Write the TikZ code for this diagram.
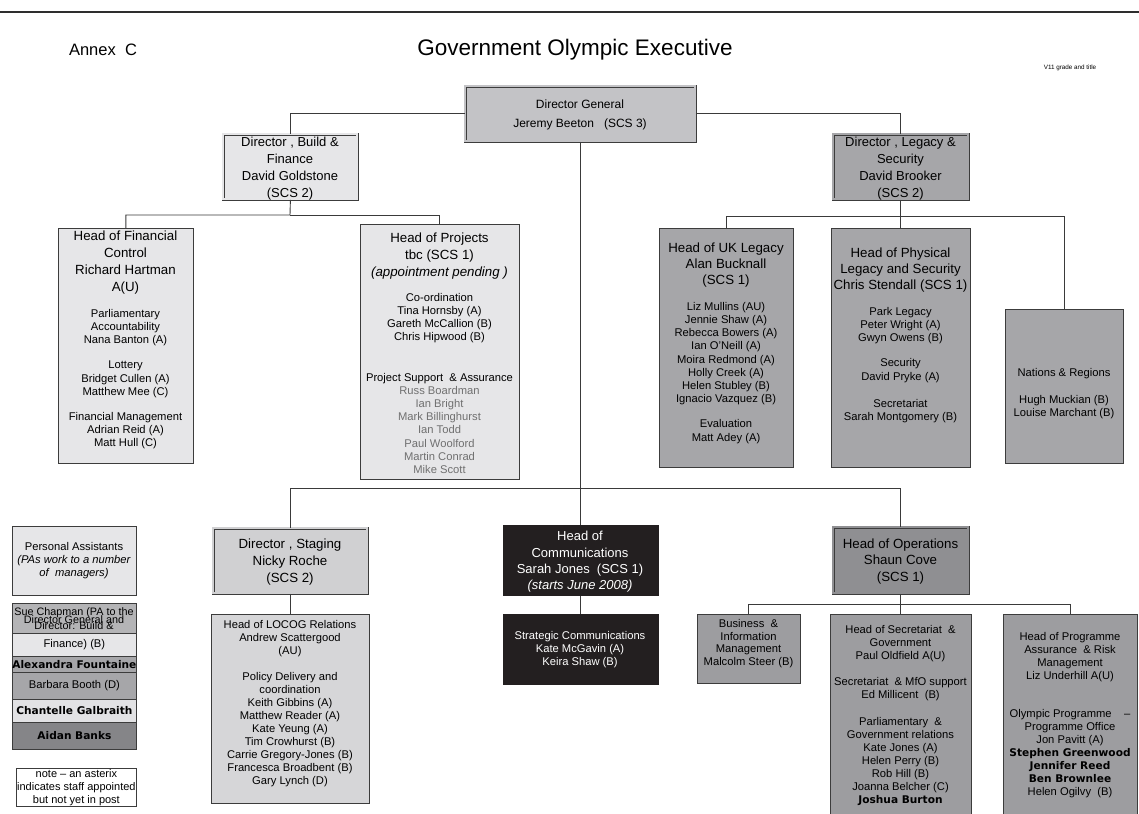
\documentclass[tikz,border=0pt]{standalone}
\usepackage{fontspec}
\setmainfont{Liberation Sans}
\newfontfamily\heavyfont{DejaVu Sans}

\definecolor{rulegray}{HTML}{2E2E2E}
\definecolor{edgegray}{HTML}{3C3C3C}
\definecolor{linegray}{HTML}{3A3A3A}
\definecolor{dgfill}{HTML}{C3C3C6}
\definecolor{pale}{HTML}{E6E6E8}
\definecolor{midgray}{HTML}{A6A6A9}
\definecolor{stagefill}{HTML}{D0D0D2}
\definecolor{locogfill}{HTML}{D6D6D8}
\definecolor{commsfill}{HTML}{231F20}
\definecolor{opsfill}{HTML}{8F8F92}
\definecolor{opsub}{HTML}{9D9DA0}
\definecolor{suefill}{HTML}{B4B4B6}
\definecolor{chanfill}{HTML}{E2E2E4}
\definecolor{aidanfill}{HTML}{858588}
\definecolor{projgray}{HTML}{707070}

\newcommand\hdsize{\fontsize{13.3}{16.5}\selectfont}
\newcommand\bdsize{\fontsize{11.2}{13.2}\selectfont}
\newcommand\heavyname[1]{{\fontsize{10.6}{13.2}\heavyfont\bfseries #1}}

\begin{document}
\begin{tikzpicture}[x=1pt, y=-1pt,
    box/.style={draw=edgegray, line width=0.8pt, anchor=north west, inner sep=0pt},
    dbox/.style={box, fill=#1, double=#1, double distance=2pt},
    conn/.style={draw=linegray, line width=0.9pt},
    hd/.style={align=center, anchor=north, inner sep=0pt, font=\hdsize},
    bd/.style={align=center, anchor=north, inner sep=0pt, font=\bdsize}]

    \useasboundingbox (0,0) rectangle (1139,813);

    \draw[rulegray, line width=1.8pt] (0,12) -- (1139,12);

    \node[font=\fontsize{16.5}{20}\selectfont] (annex) at (103,50) {Annex\ \ C};
    \node[font=\fontsize{22.5}{27}\selectfont] (title) at (575,50) {Government Olympic Executive};
    \node[font=\fontsize{6.3}{8}\selectfont] (version) at (1070,68) {V11 grade and title};

    \node[dbox=dgfill, minimum width=230, minimum height=55] (dg) at (465,86) {};
    \node[align=center, anchor=north, inner sep=0pt, font=\fontsize{12}{19}\selectfont] (dgtxt) at (580,99.5)
        {Director General\\Jeremy Beeton \ \ (SCS 3)};

    \node[dbox=pale, minimum width=134, minimum height=65] (build) at (223,134) {};
    \node[align=center, anchor=north, inner sep=0pt, font=\fontsize{13}{17}\selectfont] (buildtxt) at (290,136.5)
        {Director , Build \&\\Finance\\David Goldstone\\(SCS 2)};

    \node[dbox=midgray, minimum width=135, minimum height=65] (legacy) at (833,134) {};
    \node[align=center, anchor=north, inner sep=0pt, font=\fontsize{13}{17}\selectfont] (legacytxt) at (900.5,136.5)
        {Director , Legacy \&\\Security\\David Brooker\\(SCS 2)};

    \node[box, fill=pale, minimum width=135, minimum height=235] (fin) at (58,228) {};
    \node[hd, font=\fontsize{13.3}{17}\selectfont] (finhd) at (125.5,230.5)
        {Head of Financial\\Control\\Richard Hartman\\A(U)};
    \node[bd] (finbd) at (125.5,309)
        {Parliamentary\\Accountability\\Nana Banton (A)\\[12pt]Lottery\\Bridget Cullen (A)\\Matthew Mee (C)\\[12pt]%
         Financial Management\\Adrian Reid (A)\\Matt Hull (C)};

    \node[box, fill=pale, minimum width=159, minimum height=255] (proj) at (360,224) {};
    \node[hd, font=\fontsize{13.3}{17}\selectfont] (projhd) at (439.5,232.2)
        {Head of Projects\\tbc (SCS 1)\\\textit{(appointment pending )}};
    \node[bd] (projbd) at (439.5,293)
        {Co-ordination\\Tina Hornsby (A)\\Gareth McCallion (B)\\Chris Hipwood (B)\\[27pt]%
         Project Support \ \& Assurance\\\textcolor{projgray}{Russ Boardman}\\\textcolor{projgray}{Ian Bright}\\%
         \textcolor{projgray}{Mark Billinghurst}\\\textcolor{projgray}{Ian Todd}\\\textcolor{projgray}{Paul Woolford}\\%
         \textcolor{projgray}{Martin Conrad}\\\textcolor{projgray}{Mike Scott}};

    \node[box, fill=midgray, minimum width=134, minimum height=239] (ukleg) at (659,228) {};
    \node[hd, font=\fontsize{13.3}{16}\selectfont] (uklegHd) at (726,242.2)
        {Head of UK Legacy\\Alan Bucknall\\(SCS 1)};
    \node[bd] (uklegbd) at (726,302)
        {Liz Mullins (AU)\\Jennie Shaw (A)\\Rebecca Bowers (A)\\Ian O'Neill (A)\\Moira Redmond (A)\\Holly Creek (A)\\%
         Helen Stubley (B)\\Ignacio Vazquez (B)\\[12pt]Evaluation\\Matt Adey (A)};

    \node[box, fill=midgray, minimum width=139, minimum height=239] (phys) at (831,228) {};
    \node[hd, font=\fontsize{13.3}{16}\selectfont] (physhd) at (900.5,247.2)
        {Head of Physical\\Legacy and Security\\Chris Stendall (SCS 1)};
    \node[bd] (physbd) at (900.5,307)
        {Park Legacy\\Peter Wright (A)\\Gwyn Owens (B)\\[12pt]Security\\David Pryke (A)\\[14pt]%
         Secretariat\\Sarah Montgomery (B)};

    \node[box, fill=midgray, minimum width=118, minimum height=154] (nations) at (1005,309) {};
    \node[bd] (nationsbd) at (1064,368)
        {Nations \& Regions\\[14pt]Hugh Muckian (B)\\Louise Marchant (B)};

    \node[dbox=stagefill, minimum width=154, minimum height=65] (staging) at (213,528) {};
    \node[hd, font=\fontsize{13.3}{17}\selectfont] (staginghd) at (290,538.2)
        {Director , Staging\\Nicky Roche\\(SCS 2)};

    \node[box, fill=locogfill, minimum width=158, minimum height=189] (locog) at (211,614) {};
    \node[bd, font=\fontsize{11.2}{13}\selectfont] (locogbd) at (290,620)
        {Head of LOCOG Relations\\Andrew Scattergood\\(AU)\\[13pt]Policy Delivery and\\coordination\\%
         Keith Gibbins (A)\\Matthew Reader (A)\\Kate Yeung (A)\\Tim Crowhurst (B)\\Carrie Gregory-Jones (B)\\%
         Francesca Broadbent (B)\\Gary Lynch (D)};

    \node[box, fill=commsfill, draw=commsfill, minimum width=155, minimum height=70] (comms) at (502.5,525) {};
    \node[hd, text=white, font=\fontsize{13}{16.3}\selectfont] (commshd) at (580,531.3)
        {Head of\\Communications\\Sarah Jones \ (SCS 1)\\\textit{(starts June 2008)}};

    \node[box, fill=commsfill, draw=commsfill, minimum width=155, minimum height=70] (strat) at (502.5,614) {};
    \node[bd, text=white] (stratbd) at (580,631)
        {Strategic Communications\\Kate McGavin (A)\\Keira Shaw (B)};

    \node[dbox=opsfill, minimum width=135, minimum height=66] (ops) at (833,527) {};
    \node[hd, font=\fontsize{13.3}{16.5}\selectfont] (opshd) at (900.5,538.2)
        {Head of Operations\\Shaun Cove\\(SCS 1)};

    \node[box, fill=opsub, minimum width=103, minimum height=69] (busm) at (697,614) {};
    \node[bd, font=\fontsize{11.2}{12.7}\selectfont] (busmbd) at (748.5,619)
        {Business \ \&\\Information\\Management\\Malcolm Steer (B)};

    \node[box, fill=opsub, minimum width=141, minimum height=204] (sec) at (830,614) {};
    \node[bd, font=\fontsize{11.2}{13}\selectfont] (secbd) at (900.5,625)
        {Head of Secretariat \ \&\\Government\\Paul Oldfield A(U)\\[13pt]Secretariat \ \& MfO support\\Ed Millicent \ (B)\\[14pt]%
         Parliamentary \ \&\\Government relations\\Kate Jones (A)\\Helen Perry (B)\\Rob Hill (B)\\Joanna Belcher (C)\\%
         \heavyname{Joshua Burton}};

    \node[box, fill=opsub, minimum width=134, minimum height=204] (prog) at (1003,614) {};
    \node[bd, font=\fontsize{11.2}{13}\selectfont] (progbd) at (1070,632)
        {Head of Programme\\Assurance \ \& Risk\\Management\\Liz Underhill A(U)\\[25pt]Olympic Programme \ \ \ --\\%
         Programme Office\\Jon Pavitt (A)\\\heavyname{Stephen Greenwood}\\\heavyname{Jennifer Reed}\\%
         \heavyname{Ben Brownlee}\\Helen Ogilvy \ (B)};

    \node[box, fill=pale, minimum width=124, minimum height=69] (pa) at (12,526) {};
    \node[bd] (pabd) at (74,542)
        {Personal Assistants\\\textit{(PAs work to a number}\\\textit{of \ managers)}};

    \node[box, fill=suefill, minimum width=124, minimum height=30] (pasue) at (12,603) {};
    \node[bd, font=\fontsize{10.8}{13.2}\selectfont] (pasuetxt) at (74,607.8)
        {Sue Chapman (PA to the\\[-5.5pt]Director General and\\[-7pt]Director: Build \&};

    \foreach \y/\h/\c/\t/\n in {633/23/pale/{Finance) (B)}/fin,
                                656/16/midgray/{\heavyname{Alexandra Fountaine}}/alex,
                                672/27/midgray/{Barbara Booth (D)}/barb,
                                699/23/chanfill/{\heavyname{Chantelle Galbraith}}/chan,
                                722/27/aidanfill/{\heavyname{Aidan Banks}}/aidan}
        \node[box, fill=\c, minimum width=124, minimum height=\h, font=\bdsize] (pa\n) at (12,\y) {\t};

    \node[box, fill=white, minimum width=120, minimum height=38, align=center,
          font=\fontsize{11}{13}\selectfont] (note) at (16,768)
        {note -- an asterix\\indicates staff appointed\\but not yet in post};

    \coordinate (buildbus) at (290,215);
    \coordinate (legbus) at (900.5,216);
    \coordinate (lowbus) at (580,488);
    \coordinate (opsbus) at (900.5,604);

    \draw[conn] (dg.west) -| (build.north);
    \draw[conn] (dg.east) -| (legacy.north);
    \draw[conn] (dg.south) -- (comms.north);

    \draw[conn] (build.south) -- (buildbus) -| (fin.north);
    \draw[conn] (buildbus) -| (proj.north);

    \draw[conn] (legacy.south) -- (phys.north);
    \draw[conn] (legbus) -| (ukleg.north);
    \draw[conn] (legbus) -| (nations.north);

    \draw[conn] (lowbus) -| (staging.north);
    \draw[conn] (lowbus) -| (ops.north);
    \draw[conn] (staging.south) -- (locog.north);
    \draw[conn] (comms.south) -- (strat.north);

    \draw[conn] (ops.south) -- (sec.north);
    \draw[conn] (opsbus) -| (busm.north);
    \draw[conn] (opsbus) -| (prog.north);

\end{tikzpicture}
\end{document}
